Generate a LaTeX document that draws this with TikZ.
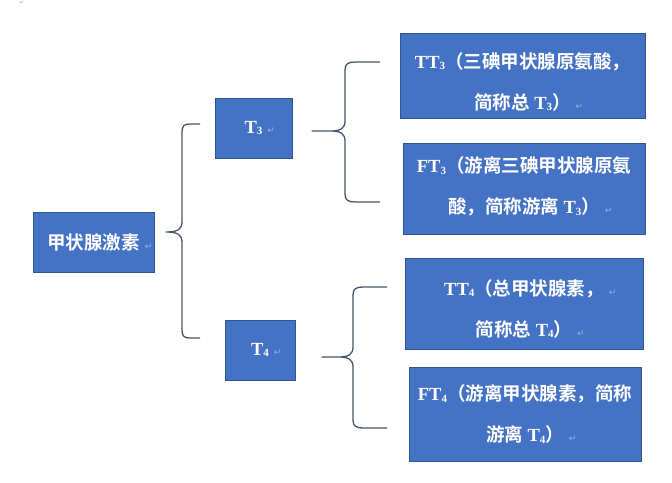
\documentclass[tikz,border=0pt]{standalone}
\usepackage{fontspec}
\setmainfont{Liberation Serif}
\newfontfamily\cjk{Noto Sans CJK SC}[BoldFont={Noto Sans CJK SC Bold}]
\newfontfamily\symf{DejaVu Sans}
\definecolor{boxblue}{HTML}{4472C4}
\definecolor{boxline}{HTML}{2F5597}
\definecolor{bracec}{HTML}{44546A}
\definecolor{markc}{HTML}{9DB3DE}
\newcommand\zh[1]{{\cjk #1}}
\newcommand\lsub[1]{\raisebox{-0.2ex}{\fontsize{11}{11}\selectfont #1}}
\newcommand\retmark{\rlap{\hspace{5pt}{\symf\mdseries\fontsize{9}{9}\selectfont\color{markc}↵}}}
\tikzset{
  box/.style={draw=boxline, fill=boxblue, text=white, line width=0.8pt,
    font=\bfseries\fontsize{18.5}{41}\selectfont, align=center, inner sep=0pt},
  bracepath/.style={draw=bracec, line width=1.3pt, line join=round}
}
\begin{document}
\begin{tikzpicture}[x=1pt,y=-1pt]
\useasboundingbox (0,0) rectangle (672,482);
\node[font=\symf\fontsize{6}{6}\selectfont, text=gray!60] (topmark) at (22,3) {↵};

\node[box, minimum width=121pt, minimum height=60pt] (root) at (93.5,242) {\zh{甲状腺激素}\retmark};
\node[box, minimum width=77pt, minimum height=60pt] (t3) at (253.5,128) {T\lsub{3}\retmark};
\node[box, minimum width=70pt, minimum height=60pt] (t4) at (260,350) {T\lsub{4}\retmark};

\node[box, minimum width=245pt, minimum height=85pt] (tt3) at (522.5,75.5) {};
\node[box, minimum width=242pt, minimum height=91pt] (ft3) at (524,188.5) {};
\node[box, minimum width=238pt, minimum height=91pt] (tt4) at (524,303.5) {};
\node[box, minimum width=232pt, minimum height=94pt] (ft4) at (525,414) {};

\node[box, draw=none, fill=none] (tt3txt) at ([yshift=-6pt]tt3.center)
  {TT\lsub{3}\zh{（三碘甲状腺原氨酸，}\\\zh{简称总} T\lsub{3}\zh{）}\retmark};
\node[box, draw=none, fill=none] (ft3txt) at ([yshift=2pt]ft3.center)
  {FT\lsub{3}\zh{（游离三碘甲状腺原氨}\\\zh{酸，简称游离} T\lsub{3}\zh{）}\retmark};
\node[box, draw=none, fill=none] (tt4txt) at ([yshift=-5pt]tt4.center)
  {TT\lsub{4}\zh{（总甲状腺素，}\retmark\\\zh{简称总} T\lsub{4}\zh{）}\retmark};
\node[box, draw=none, fill=none] (ft4txt) at (ft4.center)
  {FT\lsub{4}\zh{（游离甲状腺素，简称}\\\zh{游离} T\lsub{4}\zh{）}\retmark};

% brace from root
\draw[bracepath] (200,124) -- (190,124) .. controls (184,124) and (182,126) .. (182,132)
  -- (182,222) .. controls (182,229) and (178,232) .. (166,232)
  .. controls (178,232) and (182,235) .. (182,242)
  -- (182,330) .. controls (182,336) and (184,338) .. (190,338) -- (200,338);
% brace from T3
\draw[bracepath] (380,62) -- (355,62) .. controls (348,62) and (345,64) .. (345,70)
  -- (345,121) .. controls (345,128) and (341,131) .. (331,131) -- (312,131)
  -- (331,131) .. controls (341,131) and (345,134) .. (345,141)
  -- (345,194) .. controls (345,200) and (348,202) .. (355,202) -- (380,202);
% brace from T4
\draw[bracepath] (387,287) -- (363,287) .. controls (356,287) and (353,289) .. (353,295)
  -- (353,347) .. controls (353,354) and (349,357) .. (339,357) -- (322,357)
  -- (339,357) .. controls (349,357) and (353,360) .. (353,367)
  -- (353,420) .. controls (353,426) and (356,428) .. (363,428) -- (387,428);
\end{tikzpicture}
\end{document}
